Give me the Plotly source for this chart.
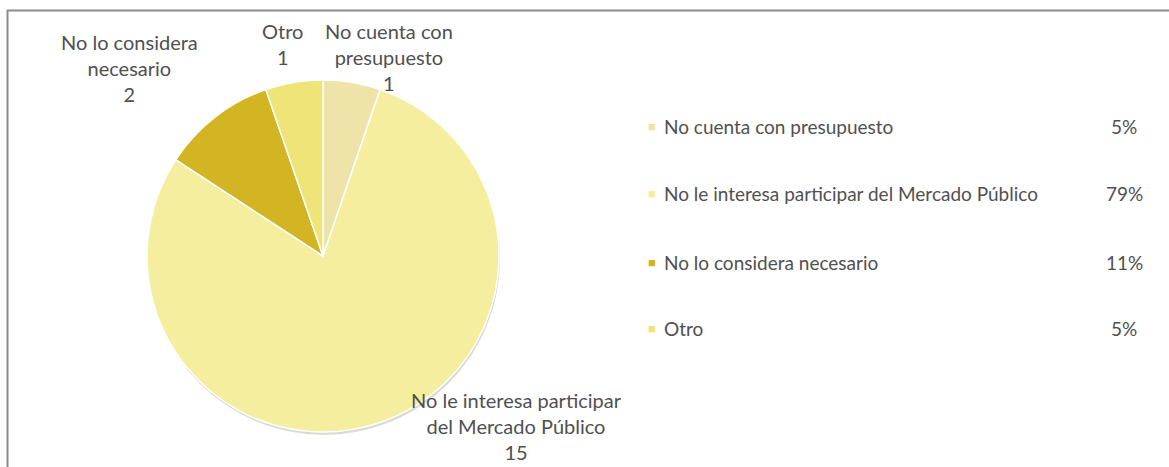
import plotly.graph_objects as go

# Survey answers: reasons for not taking part in the public market
categories = [
    "No cuenta con presupuesto",
    "No le interesa participar del Mercado Público",
    "No lo considera necesario",
    "Otro",
]
counts = [1, 15, 2, 1]
# Wrapped captions used for the labels around the pie
pie_captions = [
    "No cuenta con<br>presupuesto",
    "No le interesa participar<br>del Mercado Público",
    "No lo considera<br>necesario",
    "Otro",
]
colors = ["#EEE3A9", "#F4EE9E", "#D3B523", "#EFE477"]

W, H = 1169, 467
FONT = "Lato, 'Open Sans', sans-serif"
TXT = "#505050"

# pie placement in pixels
cx, cy, r = 323, 256, 176

fig = go.Figure()

# soft drop shadow under the pie
fig.add_trace(go.Pie(
    values=[sum(counts)],
    marker=dict(colors=["rgba(150,150,140,0.35)"], line=dict(width=0)),
    textinfo="none", hoverinfo="skip", showlegend=False, sort=False,
    domain=dict(x=[(cx - r + 1) / W, (cx + r + 1) / W],
                y=[1 - (cy + r + 3) / H, 1 - (cy - r + 3) / H]),
))

fig.add_trace(go.Pie(
    labels=categories,
    values=counts,
    sort=False,
    direction="clockwise",
    rotation=0,
    marker=dict(colors=colors, line=dict(color="white", width=1.5)),
    textinfo="none",
    showlegend=False,
    domain=dict(x=[(cx - r) / W, (cx + r) / W],
                y=[1 - (cy + r) / H, 1 - (cy - r) / H]),
))

annotations = []

# data labels: caption + count
label_pos = {
    0: (389, 57),
    1: (516, 426),
    2: (129, 68),
    3: (282, 44),
}
for i, (x, y) in label_pos.items():
    annotations.append(dict(
        x=x / W, y=1 - y / H, xref="paper", yref="paper",
        text=f"{pie_captions[i]}<br>{counts[i]}",
        showarrow=False, xanchor="center", yanchor="middle", align="center",
        font=dict(family=FONT, size=20, color=TXT),
    ))

# legend with percentage column
total = sum(counts)
row_y = [126, 193, 262, 328]
for i, cat in enumerate(categories):
    yp = 1 - row_y[i] / H
    annotations.append(dict(
        x=646 / W, y=yp, xref="paper", yref="paper", text="■",
        showarrow=False, xanchor="left", yanchor="middle",
        font=dict(family=FONT, size=13, color=colors[i]),
    ))
    annotations.append(dict(
        x=662 / W, y=yp, xref="paper", yref="paper", text=cat,
        showarrow=False, xanchor="left", yanchor="middle",
        font=dict(family=FONT, size=19, color=TXT),
    ))
    annotations.append(dict(
        x=1124 / W, y=yp, xref="paper", yref="paper",
        text=f"{round(100 * counts[i] / total)}%",
        showarrow=False, xanchor="center", yanchor="middle",
        font=dict(family=FONT, size=19, color=TXT),
    ))

fig.update_layout(
    width=W, height=H,
    margin=dict(l=0, r=0, t=0, b=0),
    paper_bgcolor="white",
    plot_bgcolor="white",
    annotations=annotations,
    shapes=[
        dict(type="line", xref="paper", yref="paper",
             x0=7 / W, x1=1, y0=1 - 10.5 / H, y1=1 - 10.5 / H,
             line=dict(color="#8c8c8c", width=2)),
        dict(type="line", xref="paper", yref="paper",
             x0=7.5 / W, x1=7.5 / W, y0=0, y1=1 - 10 / H,
             line=dict(color="#8c8c8c", width=2)),
    ],
)

fig.write_html("out.html")
